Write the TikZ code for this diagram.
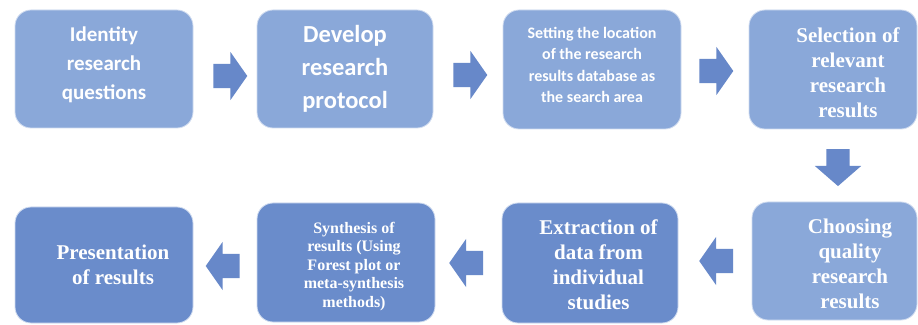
\documentclass[tikz,border=0pt]{standalone}
\usepackage{fontspec}
\setmainfont{Liberation Serif}
\newfontfamily\calibri{Carlito}
\usetikzlibrary{shapes.arrows}

\definecolor{stepblue}{RGB}{138,168,217}
\definecolor{stepdark}{RGB}{106,140,203}
\definecolor{arrowblue}{RGB}{103,136,201}

\begin{document}
\begin{tikzpicture}[
        x=1pt, y=1pt,
        box/.style={
            rectangle,
            rounded corners=16pt,
            draw=white!60!stepblue,
            line width=0.8pt,
            inner sep=0pt,
        },
        box1/.style={
            fill=stepblue,
        },
        box2/.style={
            fill=stepdark,
        },
        txt/.style={
            text=white,
            align=center,
            inner sep=0pt,
        },
        serif/.style={
            txt,
            font=\bfseries\fontsize{21}{25}\selectfont,
        },
        flow/.style={
            single arrow,
            fill=arrowblue,
            inner xsep=0pt,
            inner ysep=12pt,
            single arrow head extend=12pt,
            single arrow tip angle=110,
            minimum height=34pt,
        },
    ]
        \fill[white] (0,0) rectangle (918,324);
        \useasboundingbox (0,0) rectangle (918,324);

        % top row, left to right
        \node [box, box1, minimum width=178pt, minimum height=118pt,
            label={[txt, yshift=4pt, font=\calibri\bfseries\fontsize{21}{29}\selectfont]center:Identity\\research\\questions}]
            (questions) at (104,255) {};
        \node [box, box1, minimum width=176pt, minimum height=118pt,
            label={[txt, font=\calibri\bfseries\fontsize{24.5}{33}\selectfont]center:Develop\\research\\protocol}]
            (protocol) at (345,255) {};
        \node [box, box1, minimum width=178pt, minimum height=119pt,
            label={[txt, yshift=4.5pt, font=\calibri\bfseries\fontsize{16}{21.3}\selectfont]center:Setting the location\\of the research\\results database as\\the search area}]
            (database) at (592,254.5) {};
        \node [box, box1, minimum width=168pt, minimum height=119pt,
            label={[serif, xshift=15pt, yshift=-3.5pt]center:Selection of\\relevant\\research\\results}]
            (relevant) at (833,254.5) {};

        % bottom row, right to left
        \node [box, box1, minimum width=165pt, minimum height=118pt,
            label={[serif, xshift=15.5pt, yshift=-3pt]center:Choosing\\quality\\research\\results}]
            (quality) at (834.5,63) {};
        \node [box, box2, minimum width=176pt, minimum height=120pt,
            label={[serif, xshift=8.5pt, yshift=-2pt]center:Extraction of\\data from\\individual\\studies}]
            (extraction) at (590,61) {};
        \node [box, box2, minimum width=178pt, minimum height=119pt,
            label={[txt, xshift=8pt, yshift=-4pt, font=\bfseries\fontsize{16}{18.5}\selectfont]center:Synthesis of\\results (Using\\Forest plot or\\meta-synthesis\\methods)}]
            (synthesis) at (346,61.5) {};
        \node [box, box2, minimum width=178pt, minimum height=116pt,
            label={[serif, xshift=9pt]center:Presentation\\of results}]
            (presentation) at (104,59) {};

        % block arrows between the steps
        \node [flow] (a12) at (226,248) {};
        \node [flow] (a23) at (466,249) {};
        \node [flow] (a34) at (712,253) {};
        \node [flow, shape border rotate=270, inner xsep=11.5pt, inner ysep=0pt,
            single arrow head extend=11.5pt, single arrow tip angle=98,
            minimum height=37pt] (a45) at (838,161.5) {};
        \node [flow, shape border rotate=180] (a56) at (720.5,63) {};
        \node [flow, shape border rotate=180] (a67) at (470.5,61) {};
        \node [flow, shape border rotate=180] (a78) at (227,58) {};
    \end{tikzpicture}
\end{document}
